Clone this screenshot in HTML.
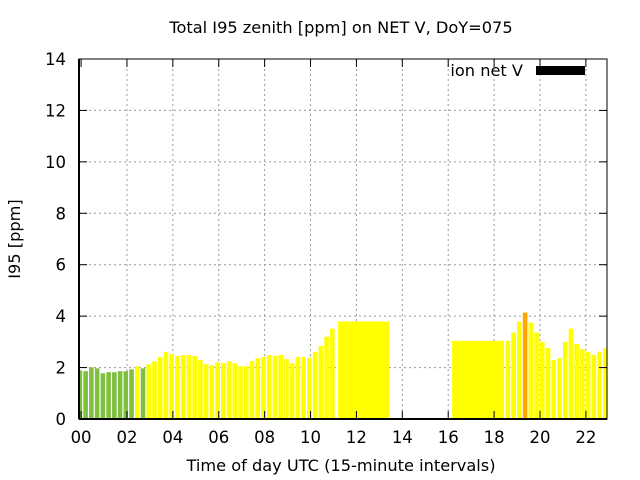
<!DOCTYPE html>
<html><head><meta charset="utf-8"><style>
body{margin:0;background:#fff}
svg{display:block;font-family:"DejaVu Sans","Liberation Sans",sans-serif}
</style></head><body>
<svg id="chart" width="640" height="480" viewBox="0 0 640 480" xmlns="http://www.w3.org/2000/svg">
<rect width="640" height="480" fill="#fff"/>
<text x="341" y="33" font-size="16.2" text-anchor="middle">Total I95 zenith [ppm] on NET V, DoY=075</text>
<g id="grid"></g>
<g id="bars"></g>
<g id="axes"></g>
<text transform="translate(20,239) rotate(-90)" font-size="16.2" text-anchor="middle">I95 [ppm]</text>
<text x="341" y="471" font-size="16.2" text-anchor="middle">Time of day UTC (15-minute intervals)</text>
<g>
<text x="523" y="76" font-size="16.2" text-anchor="end">ion net V</text>
<rect x="536" y="66" width="49" height="9" fill="#000"/>
</g>
</svg>
<script>
const earlyValues=[1.89,1.86,2.01,1.97,1.78,1.82,1.82,1.86,1.86,1.93,2.05,1.97,2.13,2.25,2.41,2.61,2.53,2.45,2.49,2.49,2.45,2.29,2.13,2.09,2.21,2.17,2.25,2.17,2.05,2.05,2.25,2.37,2.41,2.49,2.45,2.49,2.33,2.17,2.41,2.41,2.37,2.61,2.84,3.2,3.51];
const earlyColors=['g','g','g','g','g','g','g','g','g','g','y','g'];
const wideStarts=[11.2,16.17];
const wideEnds=[13.42,18.43];
const wideValues=[3.79,3.04];
const lateValues=[3.04,3.36,3.79,4.14,3.75,3.36,3.0,2.76,2.29,2.37,3.0,3.51,2.92,2.72,2.61,2.49,2.61,2.75];
const lateColors=['y','y','y','o'];
const yTicks=[0,2,4,6,8,10,12,14];
const xTicks=[0,2,4,6,8,10,12,14,16,18,20,22];
const xTickLabels=['00','02','04','06','08','10','12','14','16','18','20','22'];

const L=79,R=607,T=59,B=419,XMIN=-0.09,XMAX=22.92,YMAX=14;
const xs=t=>L+(t-XMIN)/(XMAX-XMIN)*(R-L);
const ys=v=>B-v/YMAX*(B-T);
const NS='http://www.w3.org/2000/svg';
const colorMap={g:'#80c040',y:'#ffff00',o:'#ffa500'};
function mk(tag,attrs,parent){const e=document.createElementNS(NS,tag);for(const k in attrs)e.setAttribute(k,attrs[k]);parent.appendChild(e);return e;}
const grid=document.getElementById('grid'),bars=document.getElementById('bars'),axes=document.getElementById('axes');
yTicks.forEach(v=>{if(v>0&&v<YMAX){const g=mk('line',{x1:L,x2:R,y1:ys(v),y2:ys(v),stroke:'#999','stroke-dasharray':'2,3','stroke-width':1},grid);

}});
xTicks.forEach(t=>{if(t>0){const g=mk('line',{x1:xs(t),x2:xs(t),y1:T,y2:B,stroke:'#999','stroke-dasharray':'2,3','stroke-width':1},grid);

}});
function clipX(x){return Math.max(L,Math.min(R,x));}
function bar(t0,t1,v,c,name){const x0=clipX(xs(t0)),x1=clipX(xs(t1));if(x1<=x0)return;
const r=mk('rect',{x:x0,y:ys(v),width:x1-x0,height:B-ys(v),fill:colorMap[c]},bars);

}
earlyValues.forEach((v,i)=>{const t=i*0.25-0.05;bar(t-0.1,t+0.1,v,earlyColors[i]||'y','bar-early-'+i);});
wideValues.forEach((v,i)=>bar(wideStarts[i],wideEnds[i],v,'y','bar-wide-'+i));
lateValues.forEach((v,i)=>{const t=18.6+i*0.25;bar(t-0.1,t+0.1,v,lateColors[i]||'y','bar-late-'+i);});
const frame=mk('rect',{x:L,y:T,width:R-L,height:B-T,fill:'none',stroke:'#000','stroke-width':1},axes);


mk('line',{x1:L,x2:R,y1:B,y2:B,stroke:'#000','stroke-width':2},axes);
mk('line',{x1:L,x2:L,y1:T,y2:B,stroke:'#000','stroke-width':2},axes);
yTicks.forEach(v=>{const y=ys(v);mk('line',{x1:L,x2:L+8,y1:y,y2:y,stroke:'#000'},axes);mk('line',{x1:R-8,x2:R,y1:y,y2:y,stroke:'#000'},axes);
const tx=mk('text',{x:66,y:y+6,'font-size':16.5,'text-anchor':'end'},axes);tx.textContent=v;

});
xTicks.forEach((t,i)=>{const x=xs(t);mk('line',{x1:x,x2:x,y1:B,y2:B-8,stroke:'#000'},axes);mk('line',{x1:x,x2:x,y1:T,y2:T+8,stroke:'#000'},axes);
const tx=mk('text',{x:x,y:443,'font-size':16.5,'text-anchor':'middle'},axes);tx.textContent=xTickLabels[i];

});
</script>
</body></html>
